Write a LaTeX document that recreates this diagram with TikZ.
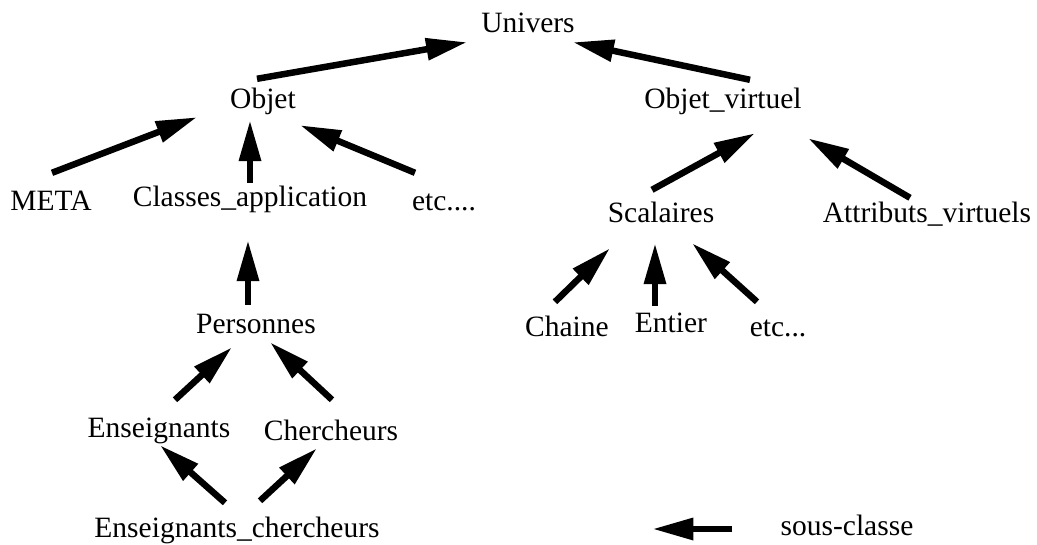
\documentclass[tikz,border=0pt]{standalone}
\usepackage{fontspec}
\setmainfont{Liberation Serif}
\usetikzlibrary{arrows.meta}

\begin{document}
\begin{tikzpicture}[x=1pt, y=-1pt, every node/.style={inner sep=0pt, anchor=base,
        text height=20pt, text depth=6pt, font=\fontsize{29.5}{34}\selectfont}
    , sub/.style={line width=6.5pt, -{Triangle[length=41pt, width=21pt]}}
    ]
    \useasboundingbox (0,0) rectangle (1037,544);

    \node (univers) at (528,32) {Univers};
    \node (objet) at (263,108) {Objet};
    \node (objvirt) at (723,108) {Objet\_virtuel};

    \node (meta) at (51,210) {META};
    \node (classes) at (250,206) {Classes\_application};
    \node (etca) at (444,210) {etc....};
    \node (scal) at (661,222) {Scalaires};
    \node (attr) at (927,222) {Attributs\_virtuels};

    \node (chaine) at (567,336) {Chaine};
    \node (entier) at (671,332) {Entier};
    \node (etcb) at (778,336) {etc...};

    \node (pers) at (256,333) {Personnes};
    \node (ens) at (159,437) {Enseignants};
    \node (cherch) at (331,440) {Chercheurs};
    \node (enscherch) at (237,537) {Enseignants\_chercheurs};

    \node (legende) at (847,535) {sous-classe};

    \draw[sub] ([shift={(-6,-9)}]objet.north) -- ([shift={(-14,4)}]univers.south west);
    \draw[sub] ([shift={(27,-8)}]objvirt.north) -- ([shift={(-2,4)}]univers.south east);

    \draw[sub] ([shift={(1,-17)}]meta.north) -- ([shift={(-33,3)}]objet.south west);
    \draw[sub] ([shift={(0,-3)}]classes.north) -- ([shift={(-13,6)}]objet.south);
    \draw[sub] ([shift={(-29,-17)}]etca.north) -- ([shift={(4,11)}]objet.south east);

    \draw[sub] ([shift={(-9,-12)}]scal.north) -- ([shift={(32,19)}]objvirt.south);
    \draw[sub] ([shift={(-17,-4)}]attr.north) -- ([shift={(85,24)}]objvirt.south);

    \draw[sub] ([shift={(-12,-14)}]chaine.north) -- ([shift={(-51,20)}]scal.south);
    \draw[sub] ([shift={(-16,-6)}]entier.north) -- ([shift={(-6,15)}]scal.south);
    \draw[sub] ([shift={(-21,-14)}]etcb.north) -- ([shift={(31,15)}]scal.south);

    % Personnes and below
    \draw[sub] ([shift={(-8,-8)}]pers.north) -- ([shift={(-2,28)}]classes.south);
    \draw[sub] ([shift={(16,-17)}]ens.north) -- ([shift={(-24,8)}]pers.south);
    \draw[sub] ([shift={(1,-20)}]cherch.north) -- ([shift={(14,3)}]pers.south);
    \draw[sub] ([shift={(-12,-14)}]enscherch.north) -- ([shift={(1,2)}]ens.south);
    \draw[sub] ([shift={(23,-16)}]enscherch.north) -- ([shift={(-14,2)}]cherch.south);

    % legend
    \draw[sub] ([shift={(-48,1)}]legende.west) -- ++(-80,0);

\end{tikzpicture}
\end{document}
